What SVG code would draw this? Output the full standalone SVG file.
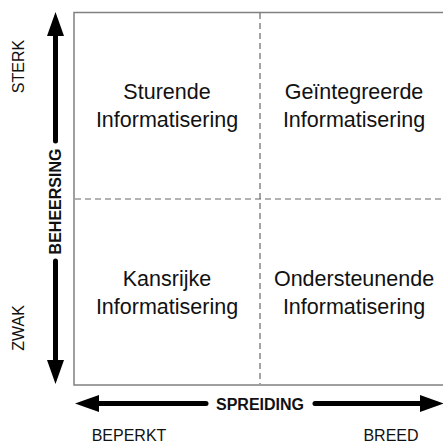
<svg xmlns="http://www.w3.org/2000/svg" width="443" height="445" viewBox="0 0 443 445">
<defs>
<style>
.box{fill:none;stroke:#808080;stroke-width:1.5}
.dash{fill:none;stroke:#666;stroke-width:1.2;stroke-dasharray:6,4}
.ax{stroke:#000;stroke-width:5;stroke-linecap:round;fill:none}
.q{font-family:"Liberation Sans",Arial,sans-serif;font-size:21.5px;fill:#111;text-anchor:middle}
.lab{font-family:"Liberation Sans",Arial,sans-serif;font-size:16px;fill:#111;text-anchor:middle}
.axl{font-family:"Liberation Sans",Arial,sans-serif;font-size:16px;font-weight:bold;fill:#111;text-anchor:middle}
</style>
<marker id="ah" markerUnits="userSpaceOnUse" viewBox="0 0 24 17" refX="0" refY="8.5" markerWidth="24" markerHeight="17" orient="auto">
<path d="M0,0 L24,8.5 L0,17 Z" fill="#000"/>
</marker>
</defs>
<rect width="443" height="445" fill="#fff"/>
<g id="grid">
<rect class="box" x="74" y="12.5" width="376" height="372.5"/>
<line class="dash" x1="260" y1="13" x2="260" y2="384"/>
<line class="dash" x1="75" y1="199" x2="443" y2="199"/>
</g>
<g id="connectors">
<line class="ax" x1="55.5" y1="141" x2="55.5" y2="36" marker-end="url(#ah)"/>
<line class="ax" x1="55.5" y1="261" x2="55.5" y2="360" marker-end="url(#ah)"/>
<line class="ax" x1="206" y1="403.5" x2="99" y2="403.5" marker-end="url(#ah)"/>
<line class="ax" x1="315" y1="403.5" x2="420" y2="403.5" marker-end="url(#ah)"/>
</g>
<g id="q-sturende"><text class="q" x="167" y="99">Sturende</text><text class="q" x="167" y="127">Informatisering</text></g>
<g id="q-geintegreerde"><text class="q" x="354" y="99">Geïntegreerde</text><text class="q" x="354" y="127">Informatisering</text></g>
<g id="q-kansrijke"><text class="q" x="167" y="286">Kansrijke</text><text class="q" x="167" y="313.5">Informatisering</text></g>
<g id="q-ondersteunende"><text class="q" x="354" y="286">Ondersteunende</text><text class="q" x="354" y="313.5">Informatisering</text></g>
<g id="axis-labels">
<text class="axl" transform="translate(61,201.5) rotate(-90)">BEHEERSING</text>
<text class="axl" x="260" y="409.5">SPREIDING</text>
<text class="lab" transform="translate(23.5,66.5) rotate(-90)">STERK</text>
<text class="lab" transform="translate(23.5,328) rotate(-90)">ZWAK</text>
<text class="lab" x="129" y="441">BEPERKT</text>
<text class="lab" x="391" y="441">BREED</text>
</g>
</svg>
